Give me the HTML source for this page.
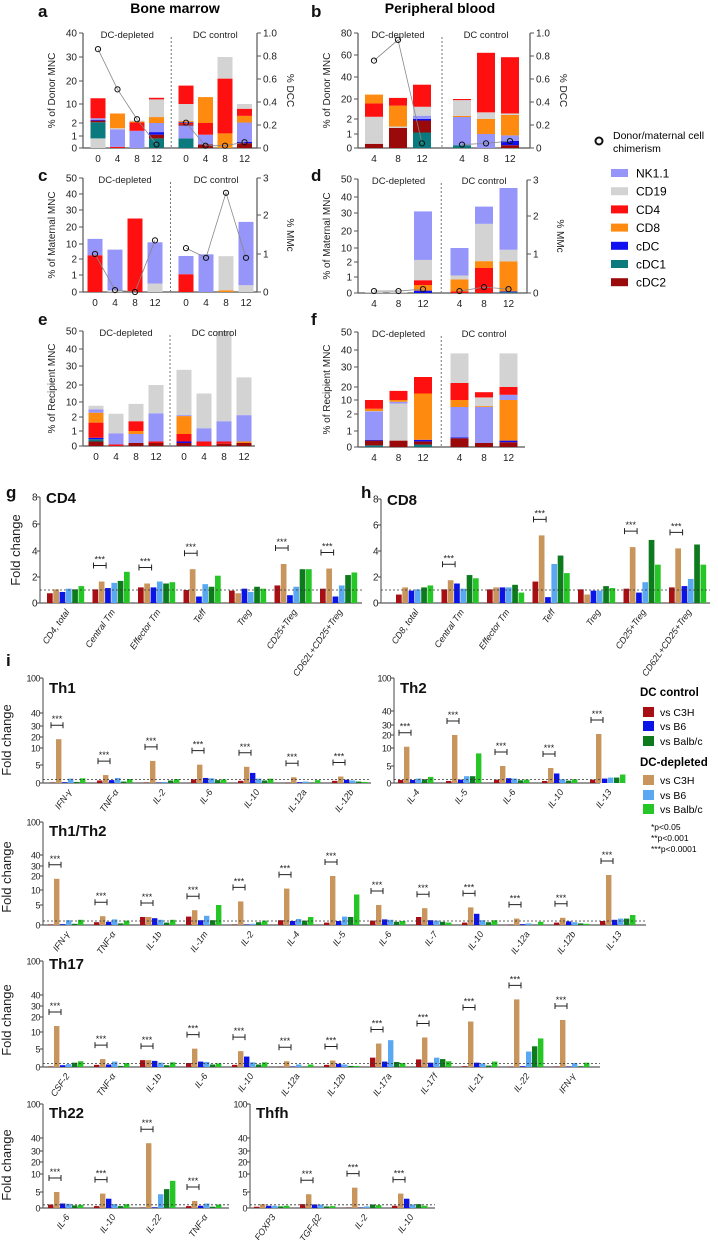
<!DOCTYPE html>
<html><head><meta charset="utf-8"><style>
html,body{margin:0;padding:0;background:#fff}
svg{display:block;font-family:"Liberation Sans",Arial,sans-serif}
</style></head><body>
<svg id="fig" width="718" height="1240" viewBox="0 0 718 1240" xmlns="http://www.w3.org/2000/svg"></svg>
<script>
// ---------- DATA: stacked panels (cumulative tops per segment, bottom->top) ----------
const aDep=[[['CD19',0.8],['cDC1',2.3],['cDC2',3],['cDC',3.3],['NK1.1',4],['CD4',12.5]],
 [['CD4',0.1],['NK1.1',1.5],['CD19',1.6],['CD8',6]],
 [['NK1.1',1.4],['CD4',2.2],['CD8',2.6],['CD19',3]],
 [['cDC1',0.8],['cDC2',1.1],['cDC',1.3],['NK1.1',2],['CD8',4.5],['CD19',12],['CD4',12.7]]];
const aCtl=[[['cDC1',0.8],['NK1.1',1.8],['cDC2',1.9],['CD4',2.0],['cDC',2.3],['CD8',2.8],['CD19',10],['CD4',18]],
 [['cDC2',0.3],['NK1.1',1.1],['CD4',2.0],['CD8',13]],
 [['CD8',1.2],['CD4',21],['CD19',30]],
 [['cDC2',0.4],['cDC',0.5],['NK1.1',2.2],['CD8',5],['CD4',8],['CD19',10]]];
const aLineDep=[0.86,0.51,0.25,0.03], aLineCtl=[0.22,0.02,0.02,0.05];
const bDep=[[['cDC2',0.3],['CD19',4],['CD4',16],['CD8',24]],
 [['cDC2',1.4],['CD19',1.5],['CD8',14],['CD4',21]],
 [['cDC1',1.1],['cDC2',1.9],['cDC',2.1],['NK1.1',5],['CD19',13],['CD4',33]]];
const bCtl=[[['cDC1',0.2],['NK1.1',3.8],['CD8',4.7],['CD19',19],['CD4',20]],
 [['NK1.1',1],['CD8',2.1],['CD19',8],['CD4',62]],
 [['cDC2',0.2],['cDC',0.5],['NK1.1',0.9],['CD8',5.6],['CD19',7],['CD4',58]]];
const bLineDep=[0.76,0.94,0.04], bLineCtl=[0.03,0.04,0.06];
const cDep=[[['CD4',4],['NK1.1',13]],[['CD19',0.1],['NK1.1',7]],[['CD4',25]],[['CD19',0.5],['NK1.1',11]]];
const cCtl=[[['CD4',1.05],['NK1.1',3.6]],[['NK1.1',4.5]],[['CD8',0.1],['CD19',3.5]],[['CD19',0.4],['NK1.1',23]]];
const cLineDep=[1.0,0.05,0,1.35], cLineCtl=[1.15,0.9,2.6,0.9];
const dDep=[[['CD19',0.03]],[['CD19',0.03]],[['cDC',0.15],['CD8',0.5],['CD4',0.8],['CD19',3.2],['NK1.1',31]]];
const dCtl=[[['CD4',0.1],['CD8',0.85],['CD19',1.1],['NK1.1',10]],
 [['CD4',1.6],['CD8',2.5],['CD19',24],['NK1.1',34]],
 [['cDC1',0.05],['cDC',0.1],['CD8',2.3],['CD19',9],['NK1.1',45]]];
const dLineDep=[0.05,0.05,0.1], dLineCtl=[0.05,0.15,0.1];
const eDep=[[['cDC2',0.3],['cDC1',0.45],['cDC',0.55],['CD4',1.6],['CD8',4.3],['NK1.1',6],['CD19',8]],
 [['CD4',0.1],['NK1.1',0.85],['CD19',3.7]],
 [['cDC2',0.2],['NK1.1',0.8],['CD8',1.0],['CD4',1.7],['CD19',9]],
 [['cDC2',0.2],['CD4',0.3],['NK1.1',4],['CD19',20]]];
const eCtl=[[['cDC2',0.2],['cDC',0.3],['CD4',0.8],['CD8',2.5],['NK1.1',3],['CD19',28]],
 [['CD4',0.3],['NK1.1',1.2],['CD19',15]],
 [['cDC2',0.15],['CD4',0.3],['NK1.1',1.7],['CD19',50]],
 [['cDC2',0.2],['CD8',0.3],['NK1.1',3],['CD19',24]]];
const fDep=[[['cDC1',0.1],['cDC2',0.4],['cDC',0.45],['NK1.1',3.5],['CD19',3.7],['CD8',5],['CD4',10]],
 [['cDC2',0.4],['CD19',8],['NK1.1',9],['CD8',10],['CD4',17]],
 [['cDC1',0.15],['cDC2',0.35],['cDC',0.45],['CD8',15],['CD4',25]]];
const fCtl=[[['cDC2',0.55],['cDC',0.6],['NK1.1',6],['CD8',10],['CD4',22],['CD19',38]],
 [['cDC2',0.25],['NK1.1',6],['CD8',6.5],['CD19',12],['CD4',16]],
 [['cDC2',0.3],['cDC',0.4],['CD8',10],['NK1.1',14],['CD4',20],['CD19',38]]];
const tpLabels4=['0','4','8','12'], tpLabels3=['4','8','12'];
const legendTypes=['NK1.1','CD19','CD4','CD8','cDC','cDC1','cDC2'];

// ---------- DATA: fold change panels ----------
const gCats=['CD4, total','Central Tm','Effector Tm','Teff','Treg','CD25+Treg','CD62L+CD25+Treg'];
const gVals=[[0.75,1.05,0.85,1.1,1.05,1.3],[1.05,1.65,1.15,1.55,1.7,2.4],[1.2,1.5,1.2,1.65,1.5,1.6],[1.0,2.6,0.5,1.45,1.25,2.1],[0.95,0.75,1.1,0.85,1.25,1.1],[1.35,3.0,0.6,1.25,2.6,2.6],[1.1,2.65,0.5,1.35,2.15,2.35]];
const hCats=['CD8, total','Central Tm','Effector Tm','Teff','Treg','CD25+Treg','CD62L+CD25+Treg'];
const hVals=[[0.65,1.2,0.95,1.05,1.2,1.35],[1.05,1.75,1.5,1.1,2.15,1.9],[1.05,1.2,1.2,1.2,1.4,0.8],[1.65,5.2,0.45,3.0,3.65,2.3],[1.05,0.65,0.95,0.95,1.3,1.15],[1.1,4.3,0.8,1.6,4.85,2.95],[1.2,4.2,1.3,1.85,4.5,2.95]];
const ghTicks=[0,2,4,6,8];
const th1Cats=['IFN-γ','TNF-α','IL-2','IL-6','IL-10','IL-12a','IL-12b'];
const th1Vals=[[0.1,18,0.2,1.2,0.3,1.3],[0.7,2.2,0.8,1.4,0.4,1.1],[0.1,6.2,0.1,0.3,0.7,1.1],[1.0,5.1,1.4,1.3,0.8,1.0],[0.6,4.5,2.8,1.2,0.7,1.2],[0.05,1.6,0.2,0.4,0.05,0.8],[0.6,1.8,0.9,0.7,0.4,0.3]];
const th2Cats=['IL-4','IL-5','IL-6','IL-10','IL-13'];
const th2Vals=[[0.9,11,0.9,1.3,1.1,1.8],[0.6,20,1.0,2.0,2.0,8.5],[1.0,5.0,1.4,1.3,0.8,1.0],[0.6,4.4,2.8,1.1,0.7,1.1],[1.0,21,1.3,1.6,1.6,2.5]];
const th12Cats=['IFN-γ','TNF-α','IL-1b','IL-1m','IL-2','IL-4','IL-5','IL-6','IL-7','IL-10','IL-12a','IL-12b','IL-13'];
const th12Vals=[[0.1,18,0.2,1.2,0.3,1.3],[0.7,2.2,0.8,1.4,0.4,1.1],[2.0,2.0,1.7,1.3,0.6,1.3],[2.1,3.7,1.2,2.3,1.2,5.0],[0.1,6.2,0.1,0.3,0.7,1.1],[1.2,11,1.0,1.5,1.1,2.0],[0.6,20,1.0,2.1,2.0,8.5],[1.1,5.0,1.4,1.3,0.8,1.0],[2.0,4.2,1.2,1.1,0.8,0.6],[0.6,4.4,2.8,1.2,0.7,1.2],[0.05,1.6,0.2,0.4,0.05,0.8],[0.6,1.8,0.9,0.7,0.4,0.3],[1.0,21,1.3,1.6,1.6,2.5]];
const th17Cats=['CSF-2','TNF-α','IL-1b','IL-6','IL-10','IL-12a','IL-12b','IL-17a','IL-17f','IL-21','IL-22','IFN-γ'];
const th17Vals=[[0.1,14,0.5,0.8,1.2,1.6],[0.6,2.2,0.7,1.5,0.3,1.1],[1.9,1.9,1.7,1.2,0.5,1.3],[1.1,5.1,1.5,1.4,0.7,1.0],[0.6,4.4,2.9,1.3,0.7,1.3],[0.05,1.6,0.1,0.7,0.05,0.7],[0.6,1.8,0.9,0.7,0.3,0.3],[2.6,6.6,1.5,7.6,1.4,1.1],[2.1,8.4,1.2,2.6,2.2,1.6],[0.2,17,1.2,1.0,0.4,1.5],[0.05,36,0.2,4.3,5.8,8.1],[0.1,18,0.1,1.1,0.2,1.2]];
const th22Cats=['IL-6','IL-10','IL-22','TNF-α'];
const th22Vals=[[1.1,5.0,1.4,1.3,0.8,1.0],[0.6,4.5,2.9,1.2,0.6,1.2],[0.1,36,0.2,4.3,5.8,8.1],[0.6,2.2,0.7,1.4,0.4,1.1]];
const thfhCats=['FOXP3','TGF-β2','IL-2','IL-10'];
const thfhVals=[[0.4,1.2,0.7,0.7,0.5,0.7],[1.2,4.3,1.1,1.1,0.5,0.6],[0.1,6.2,0.1,0.5,1.1,0.9],[0.7,4.5,2.9,1.1,1.2,0.7]];
const iTicks=[0,5,10,20,30,40,100];
const seriesNames=['ctl-c3h','dep-c3h','ctl-b6','dep-b6','ctl-balbc','dep-balbc'];

// ---------- STYLE ----------
const typeColor={'NK1.1':'#9595fa','CD19':'#d3d3d3','CD4':'#ff1010','CD8':'#ff8a10','cDC':'#1010f0','cDC1':'#0b7a7e','cDC2':'#9a0a0a'};
const serColor=['#a80f14','#c8955c','#0a14e6','#5aa8f2','#0e7a1e','#26c626'];
const NS='http://www.w3.org/2000/svg';
const svg=document.getElementById('fig');
function mk(tag,attrs,parent){const e=document.createElementNS(NS,tag);for(const k in attrs)e.setAttribute(k,attrs[k]);(parent||svg).appendChild(e);return e;}
function txt(x,y,s,attrs,parent){const t=mk('text',Object.assign({x:x,y:y},attrs||{}),parent);t.textContent=s;return t;}
function pw(dom,rng){return function(v){for(let i=1;i<dom.length;i++){if(v<=dom[i]||i===dom.length-1){return rng[i-1]+(v-dom[i-1])/(dom[i]-dom[i-1])*(rng[i]-rng[i-1]);}}};}

// ---------- stacked panel ----------
function stackPanel(c){
  const g=mk('g',{});
  
  
  const y=pw(c.ticks,c.tickPx);
  const y0=c.tickPx[0], yTop=c.tickPx[c.tickPx.length-1];
  mk('line',{x1:c.ax,y1:yTop,x2:c.ax,y2:y0,stroke:'#555','stroke-width':1.2},g);
  mk('line',{x1:c.ax,y1:y0,x2:c.rx,y2:y0,stroke:'#555','stroke-width':1.2},g);
  c.ticks.forEach((t,i)=>{
    mk('line',{x1:c.ax-4,y1:c.tickPx[i],x2:c.ax,y2:c.tickPx[i],stroke:'#555'},g);
    const l=txt(c.ax-6,c.tickPx[i]+3.5,String(t),{'font-size':10,'text-anchor':'end',fill:'#222'},g);
    
    
  });
  const yl=txt(0,0,c.ylabel,{'font-size':10,'text-anchor':'middle',fill:'#222',transform:`translate(${c.ax-28},${(y0+yTop)/2}) rotate(-90)`},g);
  
  
  let y2=null;
  if(c.r2){
    y2=pw(c.r2,c.r2Px);
    mk('line',{x1:c.rx,y1:c.r2Px[c.r2Px.length-1],x2:c.rx,y2:y0,stroke:'#555','stroke-width':1.2},g);
    c.r2.forEach((t,i)=>{
      mk('line',{x1:c.rx,y1:c.r2Px[i],x2:c.rx+4,y2:c.r2Px[i],stroke:'#555'},g);
      txt(c.rx+6,c.r2Px[i]+3.5,c.r2Lab[i],{'font-size':10,fill:'#222'},g);
    });
    const t2=txt(0,0,c.y2label,{'font-size':10,'text-anchor':'middle',fill:'#222',transform:`translate(${c.rx+30},${(y0+yTop)/2}) rotate(90)`},g);
    
    
  }
  const bars=c.dep.concat(c.ctl);
  const nd=c.dep.length;
  const xs=bars.map((b,i)=>c.x0+i*c.step+(i>=nd?c.gap:0));
  bars.forEach((segs,i)=>{
    let prev=0;
    segs.forEach(s=>{
      const r=mk('rect',{x:xs[i]-c.bw/2,y:y(s[1]),width:c.bw,height:Math.max(0.3,y(prev)-y(s[1])),fill:typeColor[s[0]]},g);
      
      
      prev=s[1];
    });
    const l=txt(xs[i],y0+14,c.labels[i%nd===i?i:i-nd]||'',{'font-size':10,'text-anchor':'middle',fill:'#222'},g);
    
    
  });
  const divX=(xs[nd-1]+xs[nd])/2;
  mk('line',{x1:divX,y1:yTop+4,x2:divX,y2:y0,stroke:'#777','stroke-dasharray':'2,2'},g);
  txt((xs[0]+xs[nd-1])/2,yTop+5,'DC-depleted',{'font-size':9.5,'text-anchor':'middle',fill:'#222'},g);
  txt((xs[nd]+xs[xs.length-1])/2,yTop+5,'DC control',{'font-size':9.5,'text-anchor':'middle',fill:'#222'},g);
  if(y2){
    [[c.ld,0],[c.lc,nd]].forEach(([arr,off])=>{
      const pts=arr.map((v,j)=>[xs[off+j],y2(v)]);
      const pl=mk('polyline',{points:pts.map(p=>p.join(',')).join(' '),fill:'none',stroke:'#888','stroke-width':0.8},g);
      
      
      pts.forEach(p=>{
        const ci=mk('circle',{cx:p[0],cy:p[1],r:2.6,fill:'none',stroke:'#111','stroke-width':1},g);
        
        
      });
    });
  }
}
const a1=['0','0.2','0.4','0.6','0.8','1.0'];
stackPanel({name:'panel-a',ax:83,rx:257,ticks:[0,1,2,10,20,30,40],tickPx:[148,136,123,104,81,57,33],x0:98,step:19.5,gap:10,bw:15,dep:aDep,ctl:aCtl,labels:tpLabels4,ylabel:'% of Donor MNC',r2:[0,0.2,0.4,0.6,0.8,1.0],r2Px:[148,125,102,79,56,33],r2Lab:a1,y2label:'% DCC',ld:aLineDep,lc:aLineCtl});
stackPanel({name:'panel-b',ax:358,rx:530,ticks:[0,1,2,20,40,60,80],tickPx:[148,134,119,99,77,55,33],x0:374,step:24,gap:16,bw:18,dep:bDep,ctl:bCtl,labels:tpLabels3,ylabel:'% of Donor MNC',r2:[0,0.2,0.4,0.6,0.8,1.0],r2Px:[148,125,102,79,56,33],r2Lab:a1,y2label:'% DCC',ld:bLineDep,lc:bLineCtl});
stackPanel({name:'panel-c',ax:83,rx:257,ticks:[0,1,2,10,20,30,40,50],tickPx:[292,275,259,244,227,210,194,178],x0:95,step:20,gap:11,bw:15,dep:cDep,ctl:cCtl,labels:tpLabels4,ylabel:'% of Maternal MNC',r2:[0,1,2,3],r2Px:[292,254,215,178],r2Lab:['0','1','2','3'],y2label:'% MMc',ld:cLineDep,lc:cLineCtl});
stackPanel({name:'panel-d',ax:358,rx:527,ticks:[0,1,2,10,20,30,40,50],tickPx:[293,277,262,248,231,213,197,179],x0:374,step:24.5,gap:12,bw:18,dep:dDep,ctl:dCtl,labels:tpLabels3,ylabel:'% of Maternal MNC',r2:[0,1,2,3],r2Px:[293,254,216,180],r2Lab:['0','1','2','3'],y2label:'% MMc',ld:dLineDep,lc:dLineCtl});
stackPanel({name:'panel-e',ax:83,rx:255,ticks:[0,1,2,10,20,30,40,50],tickPx:[446,431,417,402,385,366,349,331],x0:96,step:20,gap:8,bw:15,dep:eDep,ctl:eCtl,labels:tpLabels4,ylabel:'% of Recipient MNC'});
stackPanel({name:'panel-f',ax:358,rx:525,ticks:[0,1,2,10,20,30,40,50],tickPx:[447,431,414,400,387,367,350,332],x0:374,step:24.5,gap:12,bw:18,dep:fDep,ctl:fCtl,labels:tpLabels3,ylabel:'% of Recipient MNC'});

// titles and letters
[['a',38,17],['b',311,17],['c',38,181],['d',311,181],['e',38,325],['f',311,325],['g',6,498],['h',361,498],['i',6,666]].forEach(p=>{
  const t=txt(p[1],p[2],p[0],{'font-size':17,'font-weight':'bold',fill:'#111'});
  
  
});
const bm=txt(175,13,'Bone marrow',{'font-size':14,'font-weight':'bold','text-anchor':'middle'});


const pb=txt(440,13,'Peripheral blood',{'font-size':14,'font-weight':'bold','text-anchor':'middle'});



// stacked legend
const lg=mk('g',{});


mk('circle',{cx:599,cy:141,r:3.5,fill:'none',stroke:'#111','stroke-width':2},lg);
txt(613,139,'Donor/maternal cell',{'font-size':10.5},lg);
txt(613,152,'chimerism',{'font-size':10.5},lg);
legendTypes.forEach((t,i)=>{
  const yy=173+i*18.2;
  const r=mk('rect',{x:611,y:yy-4,width:17,height:8,fill:typeColor[t]},lg);
  
  
  txt(636,yy+4.5,t,{'font-size':12},lg);
});

// ---------- grouped panels ----------
function groupPanel(c){
  const g=mk('g',{});
  
  
  const y=pw(c.ticks,c.tickPx);
  const y0=c.tickPx[0], yTop=c.tickPx[c.tickPx.length-1];
  mk('line',{x1:c.ax,y1:yTop,x2:c.ax,y2:y0,stroke:'#444','stroke-width':1},g);
  mk('line',{x1:c.ax,y1:y0,x2:c.rx,y2:y0,stroke:'#777','stroke-width':1.6},g);
  c.ticks.forEach((t,i)=>{
    mk('line',{x1:c.ax-3,y1:c.tickPx[i],x2:c.ax,y2:c.tickPx[i],stroke:'#444'},g);
    const l=txt(c.ax-3,c.tickPx[i]+3.5,String(t),{'font-size':c.tfs||10,'text-anchor':'end',fill:'#222','letter-spacing':'-0.5'},g);
    
    
  });
  if(c.ylabel){
    const yl=txt(0,0,c.ylabel,{'font-size':c.yfs||13,'text-anchor':'middle',fill:'#222',transform:`translate(${c.ylx},${c.yly}) rotate(-90)`},g);
    
    
  }
  const tt=txt(c.ax+6,c.titleY,c.title,{'font-size':c.titleFs||15,'font-weight':'bold',fill:'#111'},g);
  
  
  c.vals.forEach((vs,gi)=>{
    const gx=c.x0+gi*c.step;
    vs.forEach((v,bi)=>{
      const x=gx+bi*c.bw;
      const r=mk('rect',{x:x,y:y(v),width:c.bw-0.6,height:Math.max(0.3,y0-y(v)),fill:serColor[bi]},g);
      
      
    });
    const tan=vs[1];
    if(tan>1.4){
      const by=y(tan)-(c.starGap||14);
      mk('path',{d:`M${gx+1},${by} h${c.bw*2} M${gx+1},${by-3} v6 M${gx+1+c.bw*2},${by-3} v6`,stroke:'#222','stroke-width':1,fill:'none'},g);
      txt(gx+1+c.bw,by-3,'***',{'font-size':9,'text-anchor':'middle',fill:'#222'},g);
    }
    const cx=gx+c.bw*3;
    const lab=txt(0,0,c.cats[gi],{'font-size':c.cfs||9,'font-style':'italic','text-anchor':'end',fill:'#222',transform:`translate(${cx+4},${y0+9}) rotate(-55)`},g);
    
    
  });
  mk('line',{x1:c.ax,y1:y(1),x2:c.rx,y2:y(1),stroke:'#333','stroke-width':0.8,'stroke-dasharray':'2,2'},g);
}
groupPanel({name:'cd4-chart',ax:40,rx:362,ticks:ghTicks,tickPx:[603,577,551,524,497],x0:47,step:45.5,bw:6.3,vals:gVals,cats:gCats,title:'CD4',titleY:503,ylabel:'Fold change',ylx:20,yly:550,yfs:13,cfs:9,starGap:16});
groupPanel({name:'cd8-chart',ax:381,rx:710,ticks:ghTicks,tickPx:[603,577,551,525,499],x0:396,step:45.5,bw:6.3,vals:hVals,cats:hCats,title:'CD8',titleY:505,cfs:9,starGap:16});
groupPanel({name:'th1-chart',ax:43,rx:371,ticks:iTicks,tickPx:[783,765,748,737,726,713,678],x0:50,step:47,bw:6,vals:th1Vals,cats:th1Cats,title:'Th1',titleY:693,ylabel:'Fold change',ylx:11,yly:740,tfs:9});
groupPanel({name:'th2-chart',ax:394,rx:600,ticks:iTicks,tickPx:[783,766,748,735,725,711,678],x0:398,step:48,bw:6,vals:th2Vals,cats:th2Cats,title:'Th2',titleY:693,tfs:9});
groupPanel({name:'th1-th2-chart',ax:43,rx:646,ticks:iTicks,tickPx:[925,905,890,876,866,855,822],x0:48,step:46,bw:6,vals:th12Vals,cats:th12Cats,title:'Th1/Th2',titleY:836,ylabel:'Fold change',ylx:11,yly:877,tfs:9});
groupPanel({name:'th17-chart',ax:43,rx:600,ticks:iTicks,tickPx:[1067,1049,1032,1017,1006,995,961],x0:48,step:46,bw:6,vals:th17Vals,cats:th17Cats,title:'Th17',titleY:969,ylabel:'Fold change',ylx:11,yly:1020,tfs:9});
groupPanel({name:'th22-chart',ax:43,rx:229,ticks:iTicks,tickPx:[1208,1192,1174,1162,1151,1138,1104],x0:48,step:46,bw:6,vals:th22Vals,cats:th22Cats,title:'Th22',titleY:1118,ylabel:'Fold change',ylx:11,yly:1165,tfs:9});
groupPanel({name:'thfh-chart',ax:250,rx:435,ticks:iTicks,tickPx:[1208,1192,1174,1162,1151,1138,1104],x0:254,step:46,bw:6,vals:thfhVals,cats:thfhCats,title:'Thfh',titleY:1118,tfs:9});

// series legend
const sl=mk('g',{});


txt(640,696,'DC control',{'font-size':11.5,'font-weight':'bold'},sl);
txt(640,766,'DC-depleted',{'font-size':11.5,'font-weight':'bold'},sl);
const legRows=[[0,712,'vs C3H'],[2,726,'vs B6'],[4,741,'vs Balb/c'],[1,780,'vs C3H'],[3,795,'vs B6'],[5,809,'vs Balb/c']];
legRows.forEach(r=>{
  const s=mk('rect',{x:643,y:r[1]-5,width:11,height:10,fill:serColor[r[0]]},sl);
  
  
  txt(660,r[1]+4,r[2],{'font-size':10.5},sl);
});
txt(651,830,'*p<0.05',{'font-size':8.5},sl);
txt(651,841,'**p<0.001',{'font-size':8.5},sl);
txt(651,852,'***p<0.0001',{'font-size':8.5},sl);
</script>
</body></html>
